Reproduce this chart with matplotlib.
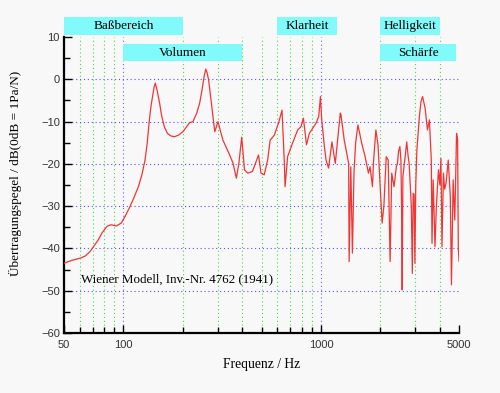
import numpy as np
import matplotlib
matplotlib.use('Agg')
import matplotlib.pyplot as plt
from matplotlib.patches import Rectangle
from matplotlib.ticker import FixedLocator, NullFormatter

# frequency response
freq = [50, 55, 60.5, 64, 67.6, 74.5, 78, 82.4, 86.5, 92, 97.5, 102, 107.9, 113,
        119, 124, 128.6, 132, 135, 138, 141.2, 143, 145, 148, 152.5, 156, 161,
        167, 174, 181, 190, 200, 216, 225, 235, 243, 250, 256, 261, 265, 270,
        277, 284, 290, 301, 310, 319, 345, 359, 373, 384, 397, 410, 426, 450,
        483, 497, 516, 537, 553, 581, 613, 635, 653, 658, 678, 718, 762, 792,
        815, 845, 873, 944, 974, 994, 1009, 1041, 1061, 1093, 1137, 1182, 1253,
        1263, 1312, 1340, 1381, 1389, 1416, 1443, 1470, 1498, 1539, 1608, 1673,
        1740, 1773, 1823, 1846, 1897, 1945, 2000, 2040, 2082, 2140, 2190, 2240,
        2282, 2345, 2408, 2440, 2470, 2510, 2540, 2560, 2578, 2600, 2634, 2680,
        2718, 2760, 2796, 2868, 2902, 2930, 2963, 2990, 3020, 3060, 3150, 3210,
        3270, 3370, 3460, 3540, 3620, 3650, 3700, 3780, 3840, 3935, 4000, 4050,
        4100, 4170, 4230, 4300, 4410, 4520, 4580, 4670, 4760, 4860, 4920, 4960,
        5000]
level = [-43.5, -42.8, -42.3, -41.8, -40.8, -38.0, -36.3, -34.8, -34.4, -34.7,
         -34.0, -32.4, -30.1, -28.0, -25.4, -22.6, -19.1, -15.0, -10.0, -6.2,
         -3.3, -1.8, -0.9, -2.6, -5.7, -8.6, -11.2, -12.8, -13.4, -13.6, -13.2,
         -12.4, -10.3, -10.0, -8.0, -5.7, -2.5, 0.6, 2.4, 1.6, -0.2, -4.5, -8.8,
         -12.4, -10.0, -12.3, -14.4, -17.9, -19.9, -23.4, -19.9, -13.7, -21.4,
         -22.2, -21.8, -17.9, -22.2, -22.6, -19.1, -14.4, -13.2, -10.0, -7.3,
         -19.9, -25.4, -18.3, -15.1, -12.0, -11.2, -9.2, -15.5, -12.8, -10.4,
         -8.8, -4.1, -9.6, -15.9, -19.1, -21.0, -14.8, -19.9, -8.0, -8.4, -14.4,
         -16.7, -19.9, -43.1, -20.7, -41.1, -22.1, -15.1, -10.8, -15.1, -18.3,
         -22.2, -20.7, -25.4, -19.5, -12.0, -15.5, -26.2, -34.0, -30.1, -18.3,
         -19.1, -43.1, -22.2, -25.4, -20.7, -19.9, -17.1, -15.9, -19.0, -30.1,
         -49.8, -23.0, -20.7, -17.5, -14.8, -18.0, -19.9, -30.1, -45.9, -27.0,
         -27.3, -43.5, -25.0, -16.7, -8.8, -5.3, -4.1, -6.9, -12.0, -9.6, -19.1,
         -38.8, -23.8, -39.6, -30.1, -21.4, -25.0, -18.7, -39.6, -22.2, -26.0,
         -24.6, -19.1, -27.8, -48.6, -23.8, -33.3, -12.8, -14.4, -40.0, -43.0]

# labelled frequency bands: name, start, end, row (0 = above axes, 1 = below)
band_names = ['Baßbereich', 'Volumen', 'Klarheit', 'Helligkeit', 'Schärfe']
band_lo = [50, 100, 600, 2000, 2000]
band_hi = [200, 400, 1200, 4000, 4850]
band_row = [0, 1, 0, 0, 1]

green_x = [60, 70, 80, 90, 200, 300, 400, 500, 600, 700, 800, 900, 2000, 3000, 4000]
blue_x = [100, 1000]
blue_y = [0, -10, -20, -30, -40, -50]

serif = ['Liberation Serif', 'DejaVu Serif']
sans = ['Liberation Sans', 'DejaVu Sans']

fig = plt.figure(figsize=(5.0, 3.93), dpi=100, facecolor='#f8f8f8')
ax = fig.add_axes([0.128, 0.1527, 0.79, 0.7532])
ax.set_facecolor('#f8f8f8')
ax.set_xscale('log')
ax.set_xlim(50, 5000)
ax.set_ylim(-60, 10)

for gx in green_x:
    ax.axvline(gx, color='#44dd44', ls=(0, (1, 2.5)), lw=0.8, zorder=1)
for bx in blue_x:
    ax.axvline(bx, color='#6666ff', ls=(0, (1, 2.5)), lw=0.8, zorder=1)
for by in blue_y:
    ax.axhline(by, color='#5555ee', ls=(0, (1, 2.5)), lw=0.8, zorder=1)

ax.plot(freq, level, color='#f03535', lw=0.9, zorder=3)

# band boxes
for name, lo, hi, row in zip(band_names, band_lo, band_hi, band_row):
    if row == 0:
        y0, y1 = 10.45, 14.7
    else:
        y0, y1 = 4.3, 8.35
    ax.add_patch(Rectangle((lo, y0), hi - lo, y1 - y0, facecolor='#80fafa',
                           edgecolor='none', clip_on=False, zorder=4))
    ax.text(np.sqrt(lo * hi), (y0 + y1) / 2, name, ha='center', va='center',
            family=serif, fontsize=9.5, zorder=5, clip_on=False)

ax.text(61, -47.3, 'Wiener Modell, Inv.-Nr. 4762 (1941)', family=serif,
        fontsize=9.4, va='center', ha='left')

for s in ['top', 'right']:
    ax.spines[s].set_visible(False)
for s in ['left', 'bottom']:
    ax.spines[s].set_linewidth(1.6)

ax.set_xticks([50, 100, 1000, 5000])
ax.set_xticklabels(['50', '100', '1000', '5000'])
ax.xaxis.set_minor_locator(FixedLocator(green_x))
ax.xaxis.set_minor_formatter(NullFormatter())
ax.set_yticks(np.arange(-60, 11, 10))
ax.yaxis.set_minor_locator(FixedLocator(np.arange(-55, 10, 10)))
ax.tick_params(axis='both', which='major', direction='in', length=6, width=1,
               labelsize=8, labelcolor='#333333')
ax.tick_params(axis='both', which='minor', direction='in', length=4, width=1)
for lab in ax.get_xticklabels() + ax.get_yticklabels():
    lab.set_family(sans)
ax.tick_params(axis='x', pad=5)
ax.tick_params(axis='y', pad=3)

ax.set_xlabel('Frequenz / Hz', family=serif, fontsize=9.8, labelpad=6)
ax.set_ylabel('Übertragungspegel / dB(0dB = 1Pa/N)', family=serif, fontsize=9.5)
ax.yaxis.set_label_coords(-0.106, 0.54)

fig.savefig('out.png', dpi=100, facecolor='#f8f8f8')
